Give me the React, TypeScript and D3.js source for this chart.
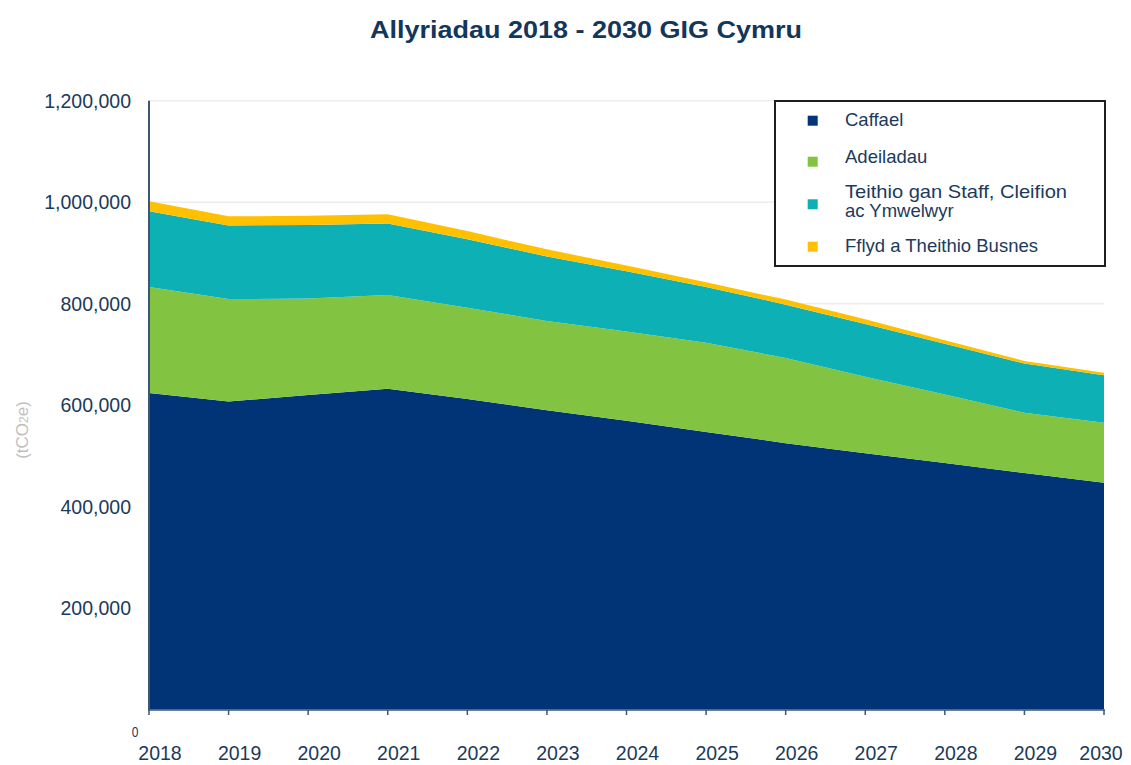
import React from "react";
import * as d3 from "d3";

const years = [2018, 2019, 2020, 2021, 2022, 2023, 2024, 2025, 2026, 2027, 2028, 2029, 2030];
const caffael = [624000, 607000, 620000, 632000, 612000, 590000, 569000, 547000, 525000, 505000, 486000, 466000, 447000];
const adeiladau = [209000, 202000, 190000, 185000, 180000, 176000, 176000, 176000, 168000, 151000, 135000, 119000, 118000];
const teithio = [149000, 145000, 145000, 141000, 135000, 127000, 119000, 110000, 105000, 104000, 100000, 97000, 94000];
const fflyd = [20000, 18000, 18000, 18000, 16000, 14000, 11000, 9000, 10000, 9000, 7000, 5000, 5000];
const yTicks = [0, 200000, 400000, 600000, 800000, 1000000, 1200000];

const seriesNames = ["Caffael", "Adeiladau", "Teithio gan Staff, Cleifion ac Ymwelwyr", "Fflyd a Theithio Busnes"];
const legendLines = [["Caffael"], ["Adeiladau"], ["Teithio gan Staff, Cleifion", "ac Ymwelwyr"], ["Fflyd a Theithio Busnes"]];
const colors = ["#003476", "#82c341", "#0db0b5", "#ffc000"];

const W = 1131;
const H = 765;
const FONT = "'Liberation Sans', Arial, sans-serif";
const TEXT = "#1b3a5c";

export default function App() {
  const x = d3.scaleLinear().domain([2018, 2030]).range([149, 1104]);
  const y = d3.scaleLinear().domain([0, 1200000]).range([709.5, 100.7]);

  const rows = years.map((yr, i) => ({
    year: yr,
    [seriesNames[0]]: caffael[i],
    [seriesNames[1]]: adeiladau[i],
    [seriesNames[2]]: teithio[i],
    [seriesNames[3]]: fflyd[i],
  }));
  const stacked = d3.stack<any>().keys(seriesNames)(rows);
  const area = d3
    .area<any>()
    .x((d) => x(d.data.year))
    .y0((d) => y(d[0]))
    .y1((d) => y(d[1]));

  const fmt = d3.format(",");

  const legendY = [120.7, 157.7, 192.7, 246.7];
  const markerY = [120.7, 161.7, 204.3, 246.7];

  return (
    <svg width={W} height={H} style={{ display: "block", position: "absolute", left: 0, top: 0 }} fontFamily={FONT}>
      <rect x={0} y={0} width={W} height={H} fill="#ffffff" />
      <text x={586} y={37.7} textAnchor="middle" fontSize={23} fontWeight="bold" fill="#14365a" textLength={432} lengthAdjust="spacingAndGlyphs">
        Allyriadau 2018 - 2030 GIG Cymru
      </text>

      {yTicks.filter((t) => t > 0).map((t) => (
        <line key={"g" + t} x1={149} x2={1104} y1={y(t)} y2={y(t)} stroke="#ededed" strokeWidth={1.5} />
      ))}

      {stacked.map((s, i) => (
        <path key={s.key} d={area(s) || ""} fill={colors[i]} />
      ))}

      <line x1={149} x2={149} y1={100.7} y2={710} stroke="#3d5773" strokeWidth={2} />
      <line x1={148} x2={1105} y1={710} y2={710} stroke="#3d5773" strokeWidth={1.5} />
      {years.map((yr) => (
        <line key={"t" + yr} x1={x(yr)} x2={x(yr)} y1={710} y2={715} stroke="#3d5773" strokeWidth={1.5} />
      ))}

      {yTicks.filter((t) => t > 0).map((t) => (
        <text key={"yl" + t} x={131} y={y(t) + 2} textAnchor="end" dominantBaseline="middle" fontSize={19.5} fill={TEXT}>
          {fmt(t)}
        </text>
      ))}
      <text x={135} y={y(0) + 28} textAnchor="middle" fontSize={15} fill={TEXT} transform={`scale(0.8,1) translate(${135 / 0.8 - 135},0)`}>
        0
      </text>

      {years.map((yr, i) => (
        <text
          key={"xl" + yr}
          x={i === years.length - 1 ? x(yr) - 3 : x(yr) + 11}
          y={760}
          textAnchor="middle"
          fontSize={19.5}
          fill={TEXT}
        >
          {yr}
        </text>
      ))}

      <text
        transform="translate(28,430) rotate(-90)"
        textAnchor="middle"
        fontSize={17}
        fill="#bfbfbf"
      >
        (tCO<tspan fontSize={12}>2</tspan>e)
      </text>

      <rect x={775} y={101} width={330} height={165} fill="#ffffff" stroke="#1e1e1e" strokeWidth={2} />
      {legendLines.map((lines, i) => (
        <g key={"lg" + i}>
          <rect x={807.7} y={markerY[i] - 5} width={10} height={10} fill={colors[i]} />
          {lines.map((ln, j) => (
            <text
              key={j}
              x={845}
              y={legendY[i] + j * 19}
              dominantBaseline="middle"
              fontSize={18.5}
              fill={TEXT}
              {...(i === 2 && j === 0 ? { textLength: 222, lengthAdjust: "spacingAndGlyphs" } : {})}
            >
              {ln}
            </text>
          ))}
        </g>
      ))}
    </svg>
  );
}
